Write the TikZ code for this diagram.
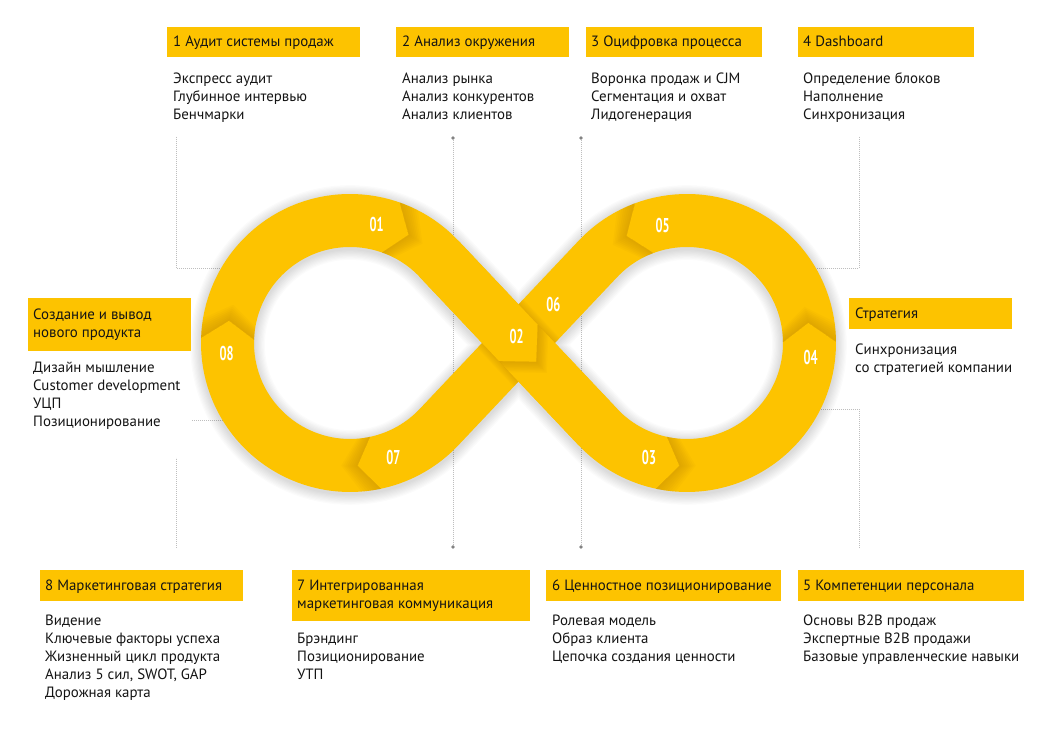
\documentclass[tikz,border=0pt]{standalone}
\usepackage{graphicx}
\usepackage{fontspec}
\setmainfont{PT Sans}
\usetikzlibrary{calc}
\definecolor{yel}{RGB}{253,195,0}
\definecolor{shc}{RGB}{150,95,0}
\definecolor{dotc}{RGB}{190,190,190}
\definecolor{dotd}{RGB}{130,130,130}
\definecolor{txt}{RGB}{20,20,20}
\tikzset{
  hbox/.style={fill=yel, draw=none, inner sep=0pt},
  htext/.style={anchor=base west, inner sep=0pt, font=\fontsize{14.9}{18}\selectfont, text=txt},
  item/.style={anchor=base west, inner sep=0pt, font=\fontsize{14.9}{18}\selectfont, text=txt},
  lead/.style={draw=dotc, line width=0.8pt, dash pattern=on 0.9pt off 1.1pt},
  num/.style={text=white, inner sep=0pt, font=\bfseries\fontsize{20}{20}\selectfont},
  band/.style={draw=yel, line width=53pt},
}
\newcommand{\loopchev}[4]{%
  \foreach \k in {1,...,8}{%
    \pgfmathsetmacro{\dd}{#4*\k*0.95}%
    \pgfmathsetmacro{\ea}{#2+\dd}%
    \pgfmathsetmacro{\ta}{#3+\dd}%
    \fill[shc, opacity=0.035, shift={(#1)}]
      (#2:149pt) -- (#3:123pt) -- (#2:96pt)
      arc[start angle=#2, end angle=\ea, radius=96pt]
      -- (\ta:123pt) -- (\ea:149pt)
      arc[start angle=\ea, end angle=#2, radius=149pt] -- cycle;
  }%
}
\begin{document}
\begin{tikzpicture}[x=1pt,y=1pt]
\useasboundingbox (0,0) rectangle (1053,736);
\fill[white] (0,0) rectangle (1053,736);

% leader lines
\coordinate (a1) at (176,599); \coordinate (a2) at (176,468); \coordinate (a3) at (240,468);
\coordinate (b1) at (453,598); \coordinate (b2) at (453,189);
\coordinate (c1) at (581,598); \coordinate (c2) at (581,189);
\coordinate (d1) at (859,599); \coordinate (d2) at (859,468); \coordinate (d3) at (800,468);
\coordinate (e1) at (859,188); \coordinate (e2) at (859,327); \coordinate (e3) at (800,327);
\coordinate (f1) at (176,188); \coordinate (f2) at (176,278);
\coordinate (g1) at (192,316); \coordinate (g2) at (240,316);
\draw[lead] (a1) -- (a2) -- (a3);
\draw[lead] (b1) -- (b2);
\draw[lead] (c1) -- (c2);
\draw[lead] (d1) -- (d2) -- (d3);
\draw[lead] (e1) -- (e2) -- (e3);
\draw[lead] (f1) -- (f2);
\draw[lead] (g1) -- (g2);
\fill[dotd] (b1) circle (1.8pt); \fill[dotd] (b2) circle (1.8pt);
\fill[dotd] (c1) circle (1.8pt); \fill[dotd] (c2) circle (1.8pt);

% soft drop shadow of the band
\foreach \k in {1,...,9}{%
  \pgfmathsetmacro{\lw}{53+2.4*\k}%
  \draw[black, opacity=0.016, line width=\lw pt, yshift=-2pt]
    (439.06,477.11) arc[start angle=43.36, end angle=316.64, radius=122.5pt]
    -- (597.94,477.11) arc[start angle=136.64, end angle=-136.64, radius=122.5pt] -- cycle;
}
% the band
\draw[band] (439.06,477.11) arc[start angle=43.36, end angle=316.64, radius=122.5pt]
    -- (597.94,477.11) arc[start angle=136.64, end angle=-136.64, radius=122.5pt] -- cycle;

% shadow of the upper band at the crossing
\coordinate (T1u) at (439.06,477.11);
\coordinate (T2d) at (597.94,308.89);
\begin{scope}
\clip (578.70,495.29) -- (617.22,458.89) -- (458.30,290.71) -- (419.78,327.11) -- cycle;
\foreach \k in {1,...,7}{%
  \pgfmathsetmacro{\lw}{53+2*\k}%
  \draw[shc, opacity=0.03, line width=\lw pt] (T1u) -- (T2d);
}
\end{scope}
\draw[band] (T1u) -- (T2d);

% chevron shadows
\loopchev{350,393}{70.5}{61.5}{-1}
\loopchev{350,393}{178}{169.5}{-1}
\loopchev{350,393}{-78}{-86.5}{-1}
\loopchev{687,393}{-102}{-93.5}{1}
\loopchev{687,393}{0.5}{9.5}{1}
\loopchev{687,393}{110.5}{119.5}{1}
\begin{scope}[shift={(518.5,393)}, rotate=-46.64]
\foreach \k in {1,...,8}{%
  \pgfmathsetmacro{\dd}{\k*1.9}%
  \pgfmathsetmacro{\tp}{26+\dd}%
  \fill[shc, opacity=0.035] (0,26.5) -- (26,0) -- (0,-26.5) -- (\dd,-26.5) -- (\tp,0) -- (\dd,26.5) -- cycle;
}
\end{scope}

% numbers
\node[num] (n1) at (376.7,511.7) {\scalebox{0.62}[1]{01}};
\node[num] (n2) at (516.7,399.3) {\scalebox{0.62}[1]{02}};
\node[num] (n3) at (649,278.3) {\scalebox{0.62}[1]{03}};
\node[num] (n4) at (810.7,378.3) {\scalebox{0.62}[1]{04}};
\node[num] (n5) at (662.7,510.3) {\scalebox{0.62}[1]{05}};
\node[num] (n6) at (553.3,431) {\scalebox{0.62}[1]{06}};
\node[num] (n7) at (393.3,278.3) {\scalebox{0.62}[1]{07}};
\node[num] (n8) at (226.7,382.7) {\scalebox{0.62}[1]{08}};

% header boxes
\node[hbox, minimum width=193pt, minimum height=30pt] (bx1) at (263.5,694) {};
\node[hbox, minimum width=173pt, minimum height=30pt] (bx2) at (482.5,694) {};
\node[hbox, minimum width=176pt, minimum height=30pt] (bx3) at (674,694) {};
\node[hbox, minimum width=176pt, minimum height=30pt] (bx4) at (886,694) {};
\node[hbox, minimum width=163pt, minimum height=53pt] (bxL) at (109.5,411.5) {};
\node[hbox, minimum width=163pt, minimum height=31pt] (bxR) at (930.5,422.5) {};
\node[hbox, minimum width=203pt, minimum height=31pt] (bx8) at (141.5,150.5) {};
\node[hbox, minimum width=238pt, minimum height=51pt] (bx7) at (411,140.5) {};
\node[hbox, minimum width=235pt, minimum height=31pt] (bx6) at (663.5,150.5) {};
\node[hbox, minimum width=226pt, minimum height=31pt] (bx5) at (911,150.5) {};

% header texts
\node[htext] (t1) at (173,689) {1 Аудит системы продаж};
\node[htext] (t2) at (402,689) {2 Анализ окружения};
\node[htext] (t3) at (591,689) {3 Оцифровка процесса};
\node[htext] (t4) at (803,689) {4 Dashboard};
\node[htext] (tLa) at (33,416) {Создание и вывод};
\node[htext] (tLb) at (33,398) {нового продукта};
\node[htext] (tR) at (855,417) {Стратегия};
\node[htext] (t8) at (45,145) {8 Маркетинговая стратегия};
\node[htext] (t7a) at (297,145) {7 Интегрированная};
\node[htext] (t7b) at (297,127) {маркетинговая коммуникация};
\node[htext] (t6) at (552,145) {6 Ценностное позиционирование};
\node[htext] (t5) at (803,145) {5 Компетенции персонала};

% lists
\node[item] (i1a) at (173,652) {Экспресс аудит};
\node[item] (i1b) at (173,634) {Глубинное интервью};
\node[item] (i1c) at (173,616) {Бенчмарки};
\node[item] (i2a) at (402,652) {Анализ рынка};
\node[item] (i2b) at (402,634) {Анализ конкурентов};
\node[item] (i2c) at (402,616) {Анализ клиентов};
\node[item] (i3a) at (591,652) {Воронка продаж и CJM};
\node[item] (i3b) at (591,634) {Сегментация и охват};
\node[item] (i3c) at (591,616) {Лидогенерация};
\node[item] (i4a) at (803,652) {Определение блоков};
\node[item] (i4b) at (803,634) {Наполнение};
\node[item] (i4c) at (803,616) {Синхронизация};
\node[item] (iLa) at (33,363) {Дизайн мышление};
\node[item] (iLb) at (33,345) {Customer development};
\node[item] (iLc) at (33,327) {УЦП};
\node[item] (iLd) at (33,309) {Позиционирование};
\node[item] (iRa) at (855,381) {Синхронизация};
\node[item] (iRb) at (855,363) {со стратегией компании};
\node[item] (i8a) at (45,110) {Видение};
\node[item] (i8b) at (45,92) {Ключевые факторы успеха};
\node[item] (i8c) at (45,74) {Жизненный цикл продукта};
\node[item] (i8d) at (45,56) {Анализ 5 сил, SWOT, GAP};
\node[item] (i8e) at (45,38) {Дорожная карта};
\node[item] (i7a) at (297,92) {Брэндинг};
\node[item] (i7b) at (297,74) {Позиционирование};
\node[item] (i7c) at (297,56) {УТП};
\node[item] (i6a) at (552,110) {Ролевая модель};
\node[item] (i6b) at (552,92) {Образ клиента};
\node[item] (i6c) at (552,74) {Цепочка создания ценности};
\node[item] (i5a) at (803,110) {Основы B2B продаж};
\node[item] (i5b) at (803,92) {Экспертные B2B продажи};
\node[item] (i5c) at (803,74) {Базовые управленческие навыки};
\end{tikzpicture}
\end{document}
